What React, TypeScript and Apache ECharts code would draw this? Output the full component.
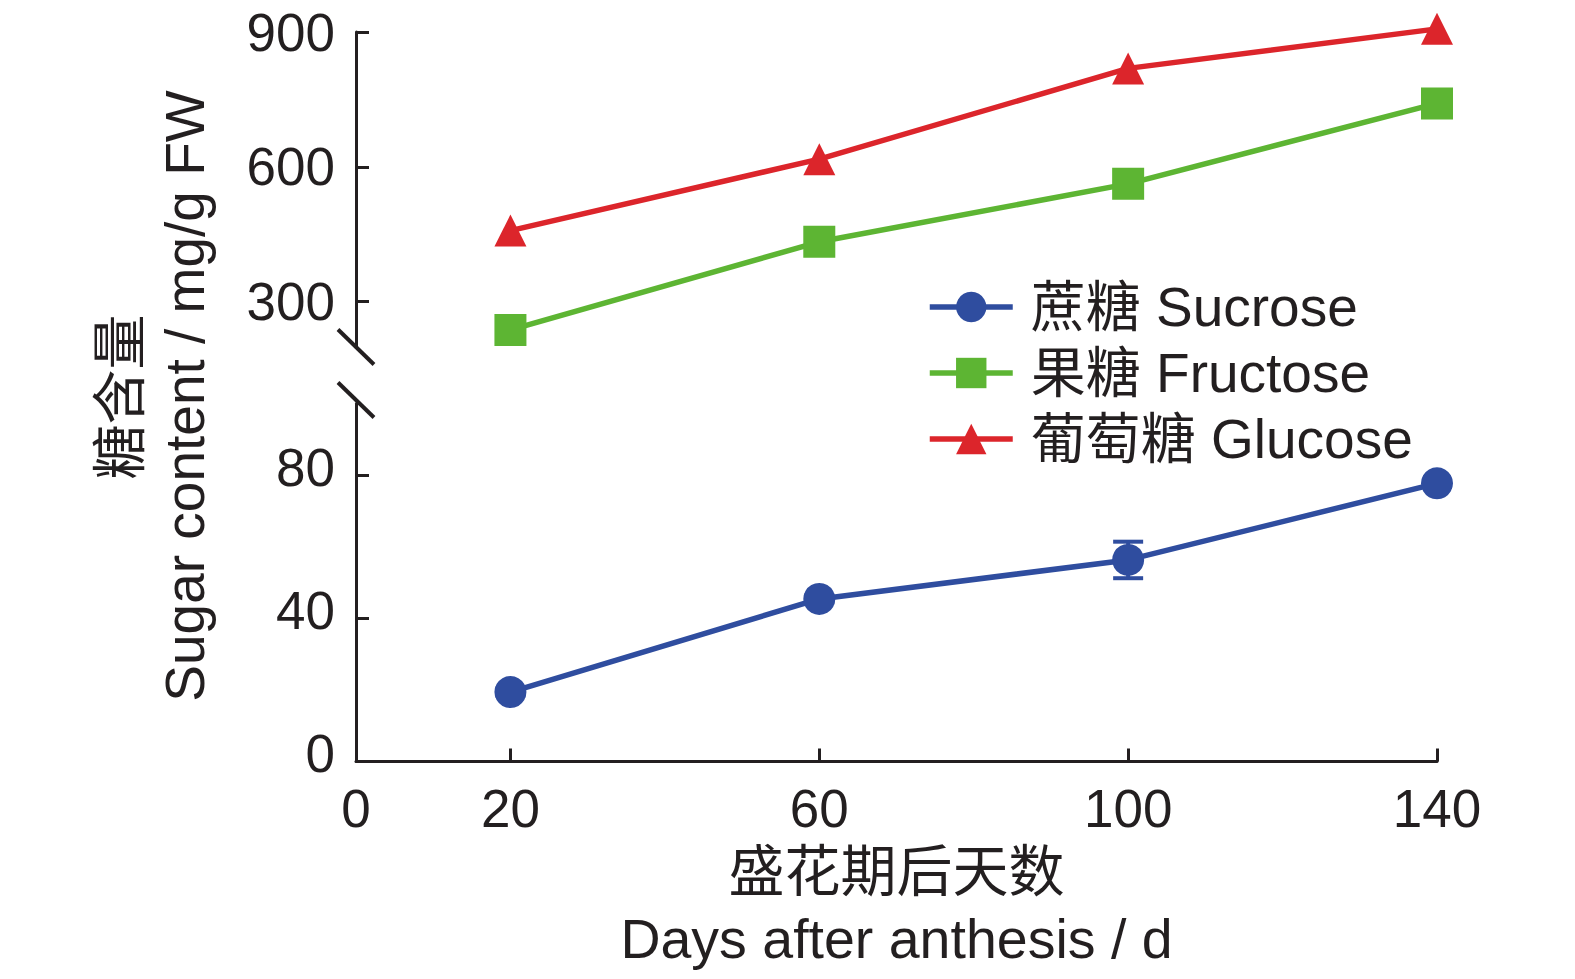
import React, { useEffect, useRef } from 'react';
import * as echarts from 'echarts';

// ---- data ----
const days = [20, 60, 100, 140];
const sucrose = [19.4, 45.4, 56.3, 77.7];
const sucroseErr = [1.0, 1.0, 5.1, 1.0];
const fructose = [237, 433, 562, 741];
const glucose = [458, 617, 819, 907];

const seriesNames = ['蔗糖 Sucrose', '果糖 Fructose', '葡萄糖 Glucose'];
const xLabelValues = [0, 20, 60, 100, 140];
const xTickValues = [20, 60, 100, 140];
const upperTicks = [300, 600, 900];
const lowerTicks = [0, 40, 80];
const upperRange = [200, 900];
const lowerRange = [0, 100];
const xRange = [0, 140];

const xTitleCn = '盛花期后天数';
const xTitleEn = 'Days after anthesis / d';
const yTitleCn = '糖含量';
const yTitleEn = 'Sugar content / mg/g FW';

// ---- styles ----
const INK = '#231F20';
const BLUE = '#2F4D9F';
const GREEN = '#5DB533';
const RED = '#DC252B';
const FONT = "'Liberation Sans', Arial, 'Noto Sans CJK SC', sans-serif";

const W = 1575;
const H = 979;
const LEFT = 356;
const RIGHT_EDGE = 1437;
const UP_TOP = 32;
const UP_BOTTOM = 346.5;
const LO_TOP = 403.5;
const LO_BOTTOM = 761.5;
const LINE_W = 5.5;

function errorBarSeries(name: string, vals: number[], errs: number[], color: string, axisIdx: number) {
  return {
    type: 'custom',
    name,
    xAxisIndex: axisIdx,
    yAxisIndex: axisIdx,
    silent: true,
    clip: false,
    z: 1,
    data: days.map((d, i) => [d, vals[i] - errs[i], vals[i] + errs[i]]),
    renderItem: (_params: any, api: any) => {
      const x = api.value(0);
      const lo = api.coord([x, api.value(1)]);
      const hi = api.coord([x, api.value(2)]);
      const hw = 15;
      const st = { stroke: color, lineWidth: 4 };
      return {
        type: 'group',
        children: [
          { type: 'line', shape: { x1: lo[0], y1: lo[1], x2: hi[0], y2: hi[1] }, style: st },
          { type: 'line', shape: { x1: lo[0] - hw, y1: lo[1], x2: lo[0] + hw, y2: lo[1] }, style: st },
          { type: 'line', shape: { x1: hi[0] - hw, y1: hi[1], x2: hi[0] + hw, y2: hi[1] }, style: st },
        ],
      };
    },
  };
}

export default function App() {
  const ref = useRef<HTMLDivElement>(null);

  useEffect(() => {
    document.body.style.margin = '0';
    if (!ref.current) return;
    const chart = echarts.init(ref.current, undefined, { renderer: 'svg' });

    const axisLine = { show: true, lineStyle: { color: INK, width: 3 } };
    const axisTick = (vals: number[]) => ({
      show: true,
      inside: true,
      length: 13,
      lineStyle: { color: INK, width: 3 },
      customValues: vals,
    });
    const xAxisLabel = {
      show: true,
      customValues: xLabelValues,
      color: INK,
      fontSize: 53,
      fontFamily: FONT,
      margin: 20,
    };
    const upperYLabel = {
      show: true,
      customValues: upperTicks,
      color: INK,
      fontSize: 53,
      fontFamily: FONT,
      margin: 21,
    };
    const lowerYLabel = {
      show: true,
      customValues: lowerTicks,
      color: INK,
      fontSize: 53,
      fontFamily: FONT,
      margin: 21,
      verticalAlign: 'bottom',
      lineHeight: 16,
    };

    const lineSeries = (name: string, data: number[], color: string, symbol: string, axisIdx: number) => ({
      type: 'line',
      name,
      xAxisIndex: axisIdx,
      yAxisIndex: axisIdx,
      data: days.map((d, i) => [d, data[i]]),
      symbol,
      symbolSize: 32,
      showSymbol: true,
      clip: false,
      z: 3,
      itemStyle: { color },
      lineStyle: { color, width: LINE_W },
      emphasis: { disabled: true },
    });

    const slash = (cy: number) => ({
      type: 'line',
      shape: { x1: LEFT - 18, y1: cy - 17.5, x2: LEFT + 18, y2: cy + 17.5 },
      style: { stroke: INK, lineWidth: 4 },
      z: 10,
    });

    const option: any = {
      animation: false,
      backgroundColor: '#ffffff',
      textStyle: { fontFamily: FONT, color: INK },
      grid: [
        { left: LEFT, width: RIGHT_EDGE - LEFT, top: UP_TOP, height: UP_BOTTOM - UP_TOP, containLabel: false },
        { left: LEFT, width: RIGHT_EDGE - LEFT, top: LO_TOP, height: LO_BOTTOM - LO_TOP, containLabel: false },
      ],
      xAxis: [
        {
          type: 'value',
          gridIndex: 0,
          min: xRange[0],
          max: xRange[1],
          show: false,
          splitLine: { show: false },
        },
        {
          type: 'value',
          gridIndex: 1,
          min: xRange[0],
          max: xRange[1],
          axisLine: { ...axisLine, onZero: false },
          axisTick: axisTick(xTickValues),
          axisLabel: xAxisLabel,
          splitLine: { show: false },
        },
      ],
      yAxis: [
        {
          type: 'value',
          gridIndex: 0,
          min: upperRange[0],
          max: upperRange[1],
          axisLine: { ...axisLine, onZero: false },
          axisTick: axisTick(upperTicks),
          axisLabel: upperYLabel,
          splitLine: { show: false },
        },
        {
          type: 'value',
          gridIndex: 1,
          min: lowerRange[0],
          max: lowerRange[1],
          axisLine: { ...axisLine, onZero: false },
          axisTick: axisTick(lowerTicks),
          axisLabel: lowerYLabel,
          splitLine: { show: false },
        },
      ],
      legend: {
        data: seriesNames,
        orient: 'vertical',
        left: 922,
        top: 272,
        itemWidth: 83,
        itemHeight: 38,
        itemGap: 6,
        selectedMode: false,
        lineStyle: { width: LINE_W },
        textStyle: {
          fontSize: 55,
          lineHeight: 60,
          color: INK,
          fontFamily: FONT,
          padding: [0, 0, 0, 13],
        },
      },
      series: [
        errorBarSeries('err-sucrose', sucrose, sucroseErr, BLUE, 1),
        lineSeries(seriesNames[0], sucrose, BLUE, 'circle', 1),
        lineSeries(seriesNames[1], fructose, GREEN, 'rect', 0),
        lineSeries(seriesNames[2], glucose, RED, 'triangle', 0),
      ],
      graphic: [
        slash(347),
        slash(400),
        {
          type: 'text',
          x: (LEFT + RIGHT_EDGE) / 2,
          y: 871,
          style: { text: xTitleCn, fontSize: 56, fontFamily: FONT, fill: INK, align: 'center', verticalAlign: 'middle' },
        },
        {
          type: 'text',
          x: (LEFT + RIGHT_EDGE) / 2,
          y: 939,
          style: { text: xTitleEn, fontSize: 55.5, fontFamily: FONT, fill: INK, align: 'center', verticalAlign: 'middle' },
        },
        {
          type: 'text',
          x: 120,
          y: 397,
          rotation: Math.PI / 2,
          style: { text: yTitleCn, fontSize: 55, fontFamily: FONT, fill: INK, align: 'center', verticalAlign: 'middle' },
        },
        {
          type: 'text',
          x: 185,
          y: 396,
          rotation: Math.PI / 2,
          style: { text: yTitleEn, fontSize: 55, fontFamily: FONT, fill: INK, align: 'center', verticalAlign: 'middle' },
        },
      ],
    };

    chart.setOption(option);
    return () => {
      chart.dispose();
    };
  }, []);

  return <div ref={ref} style={{ width: W, height: H }} />;
}
